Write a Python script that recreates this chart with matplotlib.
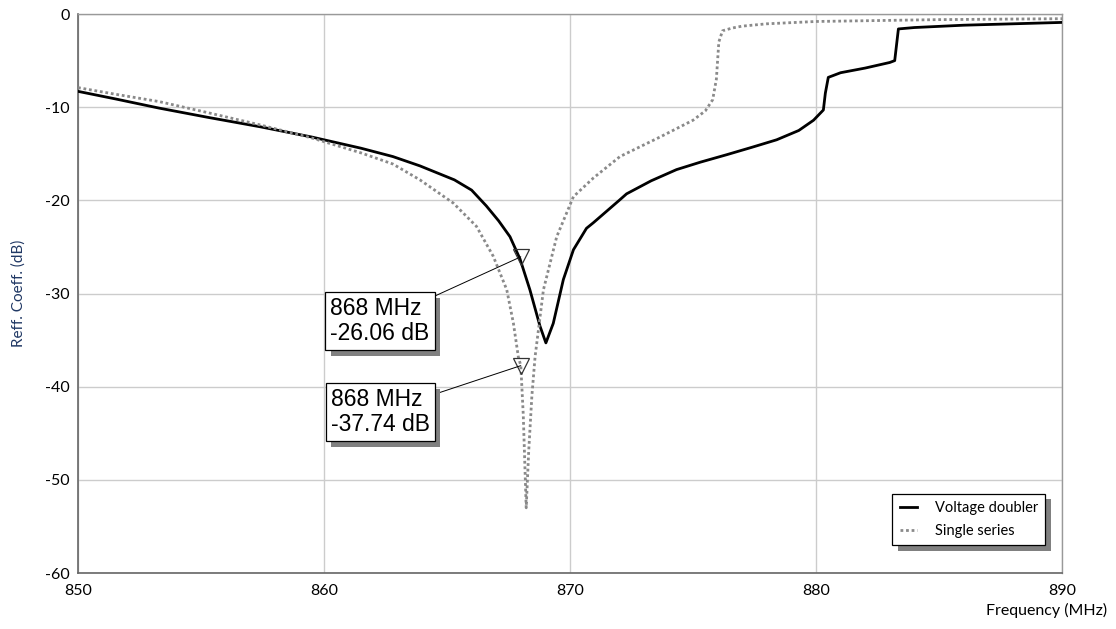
import matplotlib
matplotlib.use("Agg")
import matplotlib.pyplot as plt
import matplotlib.patheffects as pe

plt.rcParams["axes.unicode_minus"] = False

# Voltage doubler (solid)
vd_freq = [850, 851.5, 853.3, 855.3, 857.4, 859.5, 861.5, 862.8, 863.9, 865.3,
           866.0, 866.6, 867.1, 867.56, 867.97, 868.37, 868.78, 869.02, 869.32,
           869.73, 870.14, 870.67, 870.95, 872.0, 872.3, 873.3, 874.33, 875.3,
           876.37, 877.4, 878.4, 879.3, 879.9, 880.3, 880.38, 880.5, 881, 882,
           883, 883.2, 883.35, 884, 886, 888, 890]
vd_db = [-8.3, -9.1, -10.1, -11.1, -12.1, -13.2, -14.4, -15.3, -16.3, -17.8,
         -18.9, -20.6, -22.2, -23.9, -26.3, -29.6, -33.5, -35.3, -33.2,
         -28.5, -25.3, -23.0, -22.4, -20.0, -19.3, -17.9, -16.7, -15.9,
         -15.1, -14.3, -13.5, -12.5, -11.4, -10.3, -8.5, -6.8, -6.3, -5.8,
         -5.2, -5.0, -1.6, -1.45, -1.2, -1.05, -0.9]

# Single series (dotted)
ss_freq = [850, 851.5, 853.3, 855.3, 857.4, 859.5, 861.5, 862.8, 863.9, 865.26,
           866.2, 866.88, 867.43, 867.7, 867.9, 868.0, 868.1, 868.22, 868.32,
           868.45, 868.58, 868.92, 869.46, 870.14, 870.95, 872.03, 872.3,
           873.66, 875.0, 875.5, 875.8, 875.95, 876.05, 876.2, 876.6, 877, 878,
           880, 885, 890]
ss_db = [-7.9, -8.6, -9.4, -10.6, -11.9, -13.3, -14.9, -16.1, -17.8, -20.3,
         -22.8, -26.0, -29.6, -33.2, -36.8, -37.74, -43.0, -53.0, -47.0,
         -41.0, -36.8, -29.6, -23.9, -19.6, -17.6, -15.3, -14.95, -13.2,
         -11.4, -10.4, -9.2, -7.0, -3.0, -1.8, -1.5, -1.3, -1.05, -0.8, -0.6,
         -0.5]

marker_freq = [868, 868]
marker_db = [-26.06, -37.74]
marker_text = ["868 MHz\n-26.06 dB", "868 MHz\n-37.74 dB"]
box_pos = [(862.28, -32.95), (862.28, -42.75)]

x_ticks = [850, 860, 870, 880, 890]
y_ticks = [0, -10, -20, -30, -40, -50, -60]

fig = plt.figure(figsize=(11.16, 6.29), dpi=100)
ax = fig.add_axes([0.0699, 0.089, 0.8817, 0.8887])

ax.plot(vd_freq, vd_db, color="black", lw=2.0, label="Voltage doubler",
        solid_joinstyle="round", zorder=3)
ax.plot(ss_freq, ss_db, color="#8a8a8a", lw=2.0, ls=(0, (1, 1)),
        label="Single series", zorder=3)

ax.set_xlim(850, 890)
ax.set_ylim(-60, 0)
ax.set_xticks(x_ticks)
ax.set_yticks(y_ticks)
ax.grid(True, color="#cccccc", lw=1.0)
ax.set_axisbelow(True)
ax.tick_params(length=0, labelsize=11.5, pad=8)
for lab in ax.get_xticklabels() + ax.get_yticklabels():
    lab.set_family("Lato")
ax.tick_params(axis="y", pad=6)

for s in ["left", "bottom"]:
    ax.spines[s].set_color("#666666")
    ax.spines[s].set_linewidth(1.2)
for s in ["top", "right"]:
    ax.spines[s].set_color("#999999")
    ax.spines[s].set_linewidth(1.0)

ax.set_ylabel("Reff. Coeff. (dB)", family="Lato", fontsize=11, color="#203864",
              labelpad=14)
fig.text(0.992, 0.018, "Frequency (MHz)", family="Lato", fontsize=11.5,
         ha="right", va="bottom")

# markers and data labels
ax.plot(marker_freq, marker_db, ls="none", marker="v", ms=11, mfc="none",
        mec="#333333", mew=0.9, zorder=4)
box_shadow = [pe.SimplePatchShadow(offset=(4, -4), shadow_rgbFace="#808080",
                                   alpha=1), pe.Normal()]
for f, d, txt, (bx, by) in zip(marker_freq, marker_db, marker_text, box_pos):
    ann = ax.annotate(txt, xy=(f, d), xytext=(bx, by), ha="center",
                      va="center", multialignment="left",
                      family="Liberation Sans", fontsize=16.5,
                      linespacing=1.1,
                      bbox=dict(boxstyle="square,pad=0.22", fc="white",
                                ec="black", lw=0.9),
                      arrowprops=dict(arrowstyle="-", color="black", lw=0.7,
                                      shrinkA=0, shrinkB=0),
                      zorder=6)
    ann.get_bbox_patch().set_path_effects(box_shadow)

leg = ax.legend(loc="lower right", bbox_to_anchor=(0.983, 0.05),
                borderaxespad=0, fancybox=False, frameon=True, framealpha=1,
                prop={"family": "Lato", "size": 10.5}, handlelength=1.2,
                borderpad=0.5, labelspacing=0.6, handletextpad=1.2)
leg.get_frame().set_edgecolor("black")
leg.get_frame().set_linewidth(0.9)
leg.get_frame().set_path_effects(box_shadow)
leg.set_zorder(7)

fig.savefig("out.png", dpi=100)
